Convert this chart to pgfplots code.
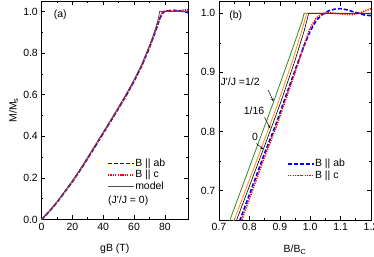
\documentclass[border=0pt]{standalone}
\usepackage{fontspec}
\setmainfont{Liberation Sans}
\usepackage{pgfplots}
\usetikzlibrary{arrows.meta}
\pgfplotsset{compat=1.18}
\definecolor{cblue}{RGB}{0,0,255}
\definecolor{cred}{RGB}{255,0,0}
\definecolor{cgray}{RGB}{80,80,80}
\definecolor{cgreen}{RGB}{50,140,30}
\definecolor{corange}{RGB}{255,140,30}
\pgfplotsset{
  mystyle/.style={
    scale only axis, anchor=south west,
    tick align=inside,
    major tick length=4bp, minor tick length=2bp,
    every tick/.style={black, line width=0.6bp},
    axis line style={line width=0.8bp},
    minor tick num=1,
    /pgf/number format/assume math mode=true,
    tick label style={font=\fontsize{10.5}{12}\selectfont},
    label style={font=\fontsize{10.5}{12}\selectfont},
    legend style={draw=none, fill=none, inner sep=0pt, font=\fontsize{10.5}{12}\selectfont,
      nodes={inner sep=0.5bp, text height=8bp, text depth=2.5bp}},
    legend cell align=left,
    legend image code/.code={\draw[##1] plot coordinates {(0bp,0bp) (13bp,0bp) (26bp,0bp)};},
  },
  bdash/.style={color=cblue, line width=1.6bp, dash pattern=on 4bp off 2bp},
  rdot/.style={color=cred, line width=1.6bp, dash pattern=on 1.2bp off 1.2bp},
}
\begin{document}
\fontsize{10.5}{12}\selectfont
\begin{tikzpicture}
\begin{axis}[mystyle,
  at={(41.5bp,37.5bp)}, width=146.5bp, height=218.5bp,
  xmin=0, xmax=95, ymin=0, ymax=1.05,
  xtick={0,20,40,60,80}, ytick={0,0.2,0.4,0.6,0.8,1.0},
  yticklabel style={/pgf/number format/.cd, fixed, fixed zerofill, precision=1},
  xlabel={gB (T)}, ylabel={M/M\textsubscript{s}},
  xlabel style={at={(axis description cs:0.5,-0.135)}, anchor=center},
  ylabel style={at={(axis description cs:-0.19,0.5)}, anchor=center},
  legend style={at={(axis description cs:0.447,0.283)}, anchor=north west},
]
\addplot[bdash] coordinates {
(0,0) (5,0.038) (10,0.082) (15,0.131) (20,0.181) (25,0.236) (30,0.294) (35,0.354) (40,0.414)
(45,0.474) (50,0.535) (55,0.597) (60,0.664) (65,0.738) (70,0.826) (73,0.886) (75,0.928)
(76,0.950) (77,0.970) (78,0.985) (79,0.995) (80,1.000) (83,1.004) (86,1.005) (90,1.002) (93,0.998) (95,0.994)};
\addlegendentry{B || ab}
\addplot[rdot] coordinates {
(0,0) (5,0.039) (10,0.083) (15,0.132) (20,0.182) (25,0.237) (30,0.295) (35,0.355) (40,0.415)
(45,0.475) (50,0.536) (55,0.598) (60,0.665) (65,0.739) (70,0.828) (73,0.888) (75,0.930)
(76,0.953) (77,0.973) (78,0.990) (79,0.998) (80,1.002) (85,1.003) (90,1.004) (95,1.008)};
\addlegendentry{B || c}
\addplot[color=cgray, line width=0.8bp] coordinates {
(0,0) (5,0.040) (10,0.085) (15,0.135) (20,0.186) (25,0.241) (30,0.300) (35,0.360) (40,0.420)
(45,0.480) (50,0.541) (55,0.604) (60,0.671) (65,0.746) (70,0.836) (73,0.896) (74.5,0.932)
(75.5,0.958) (76.2,0.982) (76.6,1.000) (95,1.000)};
\addlegendentry{model}
\node[anchor=west, inner sep=0pt] at (axis description cs:0.454,0.085) {(J\textquotesingle/J = 0)};
\node[anchor=center, inner sep=0pt] at (axis description cs:0.128,0.935) {(a)};
\end{axis}

\begin{axis}[mystyle,
  at={(219bp,37bp)}, width=152bp, height=218.5bp,
  xmin=0.7, xmax=1.2, ymin=0.65, ymax=1.02,
  xtick={0.7,0.8,0.9,1.0,1.1,1.2}, ytick={0.7,0.8,0.9,1.0},
  xticklabel style={/pgf/number format/.cd, fixed, fixed zerofill, precision=1},
  yticklabel style={/pgf/number format/.cd, fixed, fixed zerofill, precision=1},
  xlabel={B/B\textsubscript{C}},
  xlabel style={at={(axis description cs:0.5,-0.135)}, anchor=center},
  legend style={at={(axis description cs:0.446,0.284)}, anchor=north west},
  clip=true,
]
\addplot[color=cgreen, line width=0.8bp, forget plot] coordinates {
(0.728,0.639) (0.736,0.65) (0.822,0.77) (0.876,0.845) (0.928,0.92) (0.962,0.97) (0.974,0.988) (0.980,1.0) (1.2,1.0)};
\addplot[color=corange, line width=0.8bp, forget plot] coordinates {
(0.742,0.639) (0.750,0.65) (0.838,0.77) (0.892,0.845) (0.942,0.92) (0.972,0.97) (0.982,0.988) (0.988,1.0) (1.2,1.0)};
\addplot[color=black, line width=0.6bp, forget plot] coordinates {
(0.750,0.639) (0.758,0.65) (0.846,0.77) (0.900,0.845) (0.950,0.92) (0.980,0.97) (0.989,0.988) (0.995,1.0) (1.2,1.0)};
\addplot[bdash] coordinates {
(0.761,0.639) (0.769,0.65) (0.80,0.693) (0.85,0.763) (0.886,0.81) (0.92,0.86) (0.961,0.919) (0.98,0.945)
(1.0,0.970) (1.02,0.988) (1.04,0.998) (1.06,1.004) (1.08,1.007) (1.10,1.008) (1.12,1.006)
(1.14,1.003) (1.16,1.000) (1.18,0.997) (1.2,0.996)};
\addlegendentry{B || ab}
\addplot[rdot] coordinates {
(0.767,0.639) (0.775,0.65) (0.80,0.686) (0.85,0.757) (0.89,0.81) (0.92,0.855) (0.96,0.915) (0.98,0.947)
(1.0,0.975) (1.02,0.992) (1.04,0.999) (1.06,1.001) (1.08,1.000) (1.10,0.999) (1.12,0.998)
(1.14,0.998) (1.16,1.000) (1.18,1.004) (1.2,1.008)};
\addlegendentry{B || c}
\node[anchor=center, inner sep=0pt] at (axis description cs:0.11,0.935) {(b)};
\node[anchor=west, inner sep=0pt] at (axis description cs:0.01,0.632) {J\textquotesingle/J =1/2};
\draw[-{Stealth[length=3bp,width=2.5bp]}, line width=0.5bp] (axis description cs:0.324,0.594) -- (axis description cs:0.358,0.543);
\node[anchor=center, inner sep=0pt] at (axis description cs:0.23,0.5) {1/16};
\draw[-{Stealth[length=3bp,width=2.5bp]}, line width=0.5bp] (axis description cs:0.30,0.470) -- (axis description cs:0.337,0.419);
\node[anchor=center, inner sep=0pt] at (axis description cs:0.237,0.38) {0};
\draw[-{Stealth[length=3bp,width=2.5bp]}, line width=0.5bp] (axis description cs:0.246,0.35) -- (axis description cs:0.291,0.324);
\end{axis}
\pgfresetboundingbox
\path (0bp,0bp) rectangle (374bp,257bp);
\end{tikzpicture}
\end{document}
